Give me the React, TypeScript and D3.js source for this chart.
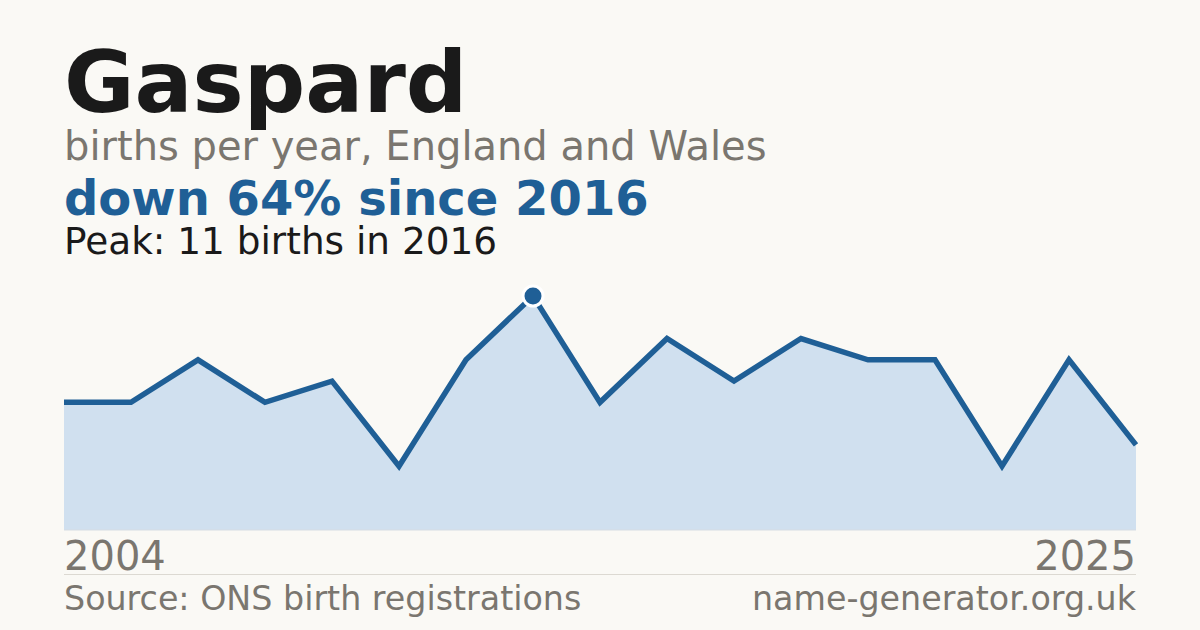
import * as d3 from 'd3';

const years = ['2004', '2005', '2007', '2009', '2011', '2013', '2015', '2016', '2017', '2018', '2019', '2020', '2021', '2022', '2023', '2024', '2025'];
const births = [6, 6, 8, 6, 7, 3, 8, 11, 6, 9, 7, 9, 8, 8, 3, 8, 4];

const name = 'Gaspard';
const subtitle = 'births per year, England and Wales';
const source = 'Source: ONS birth registrations';
const site = 'name-generator.org.uk';

const W = 1200;
const H = 630;
const FONT = '"DejaVu Sans", Verdana, sans-serif';
const BLUE = '#1f5f96';
const GREY = '#7a766f';

const App = () => {
  const margin = { left: 64, right: 64, top: 296, bottom: 100 };
  const baseY = H - margin.bottom;

  const x = d3
    .scalePoint<string>()
    .domain(years)
    .range([margin.left, W - margin.right]);

  const peak = d3.max(births) as number;
  const peakIdx = births.indexOf(peak);
  const last = births[births.length - 1];
  const change = Math.round(((peak - last) / peak) * 100);

  const y = d3.scaleLinear().domain([0, peak]).range([baseY, margin.top]);

  const pts = years.map((yr, i) => ({ yr, v: births[i] }));

  const line = d3
    .line<{ yr: string; v: number }>()
    .x(d => x(d.yr) as number)
    .y(d => y(d.v));

  const area = d3
    .area<{ yr: string; v: number }>()
    .x(d => x(d.yr) as number)
    .y0(baseY)
    .y1(d => y(d.v));

  return (
    <svg
      width={W}
      height={H}
      viewBox={`0 0 ${W} ${H}`}
      style={{ position: 'fixed', left: 0, top: 0, display: 'block' }}
      fontFamily={FONT}
    >
      <rect width={W} height={H} fill="#faf9f5" />

      {/* heading block */}
      <text x={64} y={112} fontSize={86} fontWeight="bold" fill="#1a1a1a">
        {name}
      </text>
      <text x={64} y={160} fontSize={40} fill={GREY}>
        {subtitle}
      </text>
      <text x={64} y={215} fontSize={48} fontWeight="bold" fill={BLUE}>
        {`down ${change}% since ${years[peakIdx]}`}
      </text>
      <text x={64} y={254} fontSize={37.4} fill="#1a1a1a">
        {`Peak: ${peak} births in ${years[peakIdx]}`}
      </text>

      {/* chart */}
      <path d={area(pts) ?? ''} fill="#d0e0ef" />
      <line x1={margin.left} x2={W - margin.right} y1={baseY} y2={baseY} stroke="#d6dde3" strokeWidth={1} />
      <path d={line(pts) ?? ''} fill="none" stroke={BLUE} strokeWidth={5.5} strokeLinejoin="miter" />
      <circle
        cx={x(years[peakIdx]) as number}
        cy={y(peak)}
        r={10}
        fill={BLUE}
        stroke="#ffffff"
        strokeWidth={3}
      />

      {/* axis ends */}
      <text x={margin.left} y={570} fontSize={40} fill={GREY}>
        {years[0]}
      </text>
      <text x={W - margin.right} y={570} fontSize={40} fill={GREY} textAnchor="end">
        {years[years.length - 1]}
      </text>

      <line x1={margin.left} x2={W - margin.right} y1={574.5} y2={574.5} stroke="#dcd9d2" strokeWidth={1} />

      <text x={margin.left} y={610} fontSize={33.3} fill={GREY}>
        {source}
      </text>
      <text x={W - margin.right} y={610} fontSize={33.3} fill={GREY} textAnchor="end">
        {site}
      </text>
    </svg>
  );
};

export default App;
